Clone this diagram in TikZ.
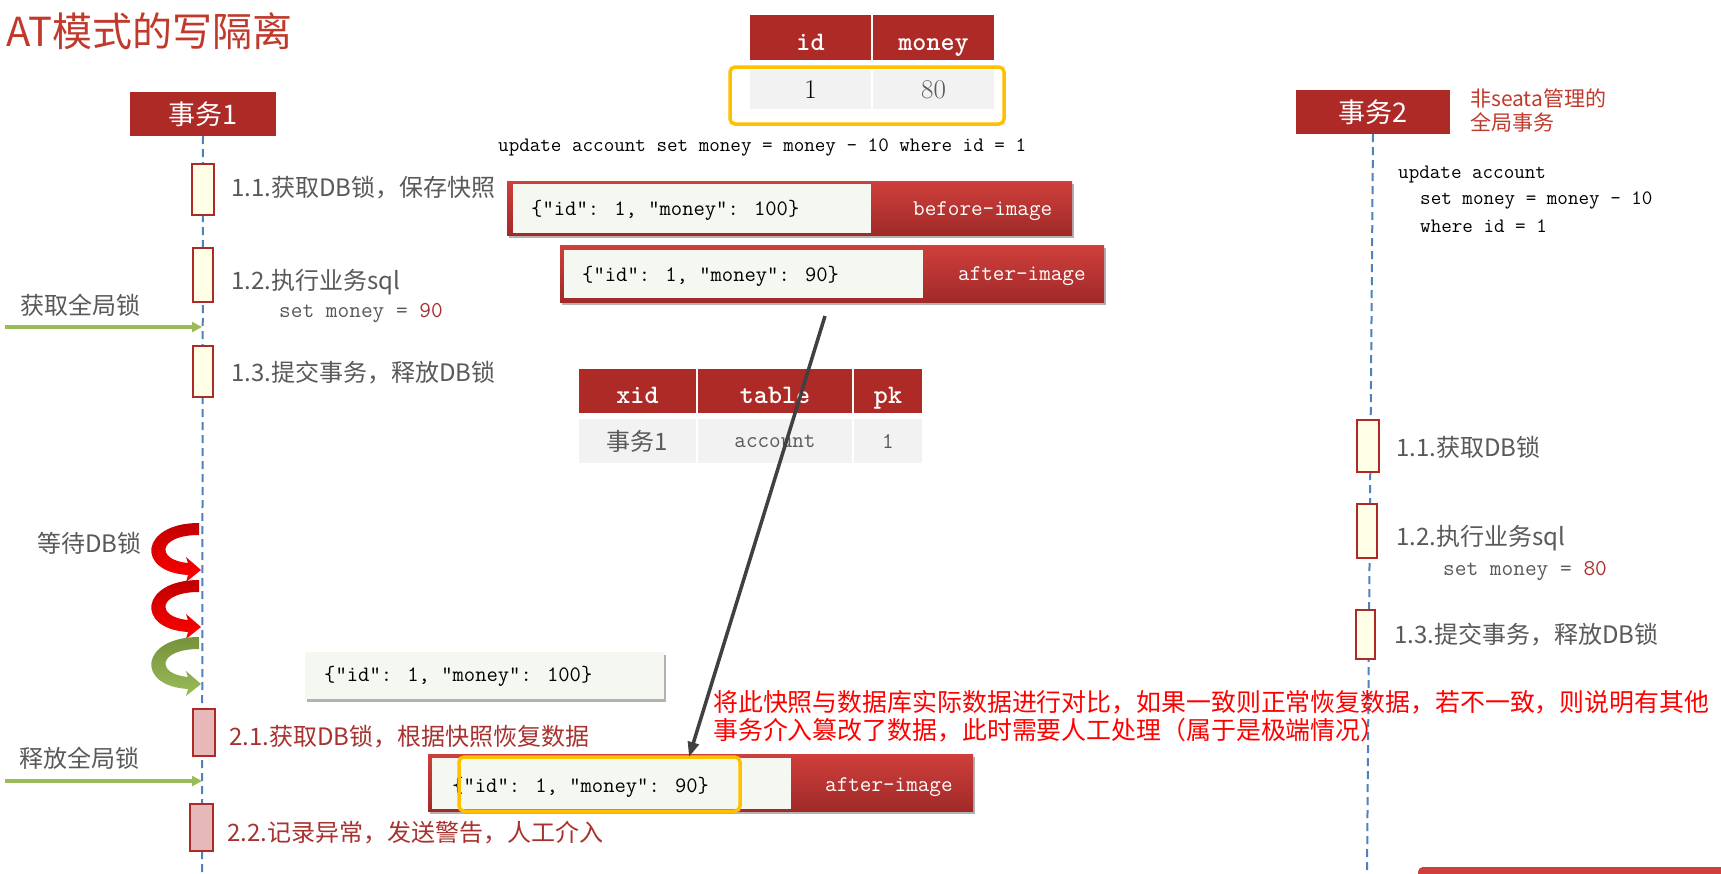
\documentclass[tikz,border=0pt]{standalone}
\usepackage{fontspec}
\newfontfamily\cjk{Noto Sans CJK SC}
\usetikzlibrary{shadows,arrows.meta}
\definecolor{txred}{HTML}{AD2A27}
\definecolor{titlered}{HTML}{C0392B}
\definecolor{undored}{HTML}{A8322F}
\definecolor{warnred}{HTML}{FF0000}
\definecolor{lineblue}{HTML}{4F81BD}
\definecolor{actfill}{HTML}{FFFFE8}
\definecolor{undofill}{HTML}{E6B8B7}
\definecolor{lblgray}{HTML}{595959}
\definecolor{lockgreen}{HTML}{9BBB59}
\definecolor{okdark}{HTML}{76923C}
\definecolor{waitdark}{HTML}{C00000}
\definecolor{hilite}{HTML}{FFC000}
\definecolor{cellgray}{HTML}{F2F2F2}
\definecolor{snapbg}{HTML}{F5F8F0}
\definecolor{imgtop}{HTML}{CF3F3C}
\definecolor{imgbot}{HTML}{A02A28}
\definecolor{cmpgray}{HTML}{404040}

\tikzset{
  txbox/.style={fill=txred,text=white,font=\cjk\fontsize{27}{30}\selectfont,minimum height=44pt,inner sep=0pt},
  lifeline/.style={draw=lineblue,line width=2pt,dash pattern=on 8pt off 5pt},
  actbox/.style={draw=txred,line width=2pt,fill=actfill,inner sep=0pt},
  undobox/.style={actbox,fill=undofill},
  stepnote/.style={anchor=west,inner sep=0pt,text=lblgray,font=\cjk\fontsize{24}{28}\selectfont},
  undonote/.style={stepnote,text=undored},
  codenote/.style={anchor=west,inner sep=0pt,text=lblgray,font=\ttfamily\fontsize{22.7}{26}\selectfont},
  sqlnote/.style={anchor=west,inner sep=0pt,text=black,font=\ttfamily\fontsize{20.5}{24}\selectfont},
  lockarrow/.style={draw=lockgreen,line width=3.5pt,-{Triangle[length=10pt,width=10pt]}},
  headcell/.style={fill=txred,text=white,inner sep=0pt,text height=27pt,text depth=2pt,
    font=\ttfamily\bfseries\fontsize{26.7}{30}\selectfont},
  datacell/.style={fill=cellgray,text=lblgray,inner sep=0pt},
  imgbox/.style={top color=imgtop,bottom color=imgbot,inner sep=0pt,
    drop shadow={shadow xshift=2pt,shadow yshift=-3pt,opacity=.3,fill=black}},
  imgdata/.style={fill=snapbg,inner sep=0pt},
  jsontext/.style={anchor=west,inner sep=0pt,text=black,font=\ttfamily\fontsize{22}{26}\selectfont},
  imgtag/.style={anchor=west,inner sep=0pt,text=white,font=\ttfamily\fontsize{22.5}{26}\selectfont},
  hilite/.style={draw=hilite,line width=3.5pt,rounded corners=5pt},
}

\begin{document}
\begin{tikzpicture}[x=1pt,y=-1pt]
\useasboundingbox[fill=white] (0,0) rectangle (1721,873);

\node[anchor=west,inner sep=0pt,text=titlered,font=\cjk\fontsize{40}{44}\selectfont] (title) at (6,31) {AT模式的写隔离};

% transactions and lifelines
\node[txbox,minimum width=146pt] (t1) at (203,114) {事务1};
\node[txbox,minimum width=154pt] (t2) at (1373,112) {事务2};
\node[anchor=west,align=left,inner sep=0pt,text=titlered,font=\cjk\fontsize{21}{24}\selectfont] (nonseata) at (1470,111) {非seata管理的\\全局事务};
\coordinate (t1end) at (202,873);
\coordinate (t2end) at (1367,873);
\draw[lifeline] (t1.south) -- (t1end);
\draw[lifeline] (t2.south) -- (t2end);

% transaction 1
\node[actbox,minimum width=21.5pt,minimum height=51pt] (a11) at (203,189.5) {};
\node[actbox,minimum width=20pt,minimum height=54pt] (a12) at (202.5,275) {};
\node[actbox,minimum width=20pt,minimum height=51pt] (a13) at (202.5,371) {};
\node[undobox,minimum width=22pt,minimum height=47pt] (b21) at (204,732.5) {};
\node[undobox,minimum width=23pt,minimum height=47pt] (b22) at (201.5,827.5) {};

\node[stepnote] (l11) at (231,188) {1.1.获取DB锁，保存快照};
\node[stepnote] (l12) at (231,282) {1.2.执行业务sql};
\node[codenote] (l12b) at (279,313) {set money = \textcolor{undored}{90}};
\node[stepnote] (l13) at (231,373) {1.3.提交事务，释放DB锁};
\node[undonote] (l21) at (229,737) {2.1.获取DB锁，根据快照恢复数据};
\node[undonote] (l22) at (227,833) {2.2.记录异常，发送警告，人工介入};

\node[stepnote] (getlock) at (20,305) {获取全局锁};
\node[stepnote] (waitdb) at (37,543) {等待DB锁};
\node[stepnote] (freelock) at (19,758) {释放全局锁};
\coordinate (g1a) at (5,327);
\coordinate (g1b) at (202,327);
\coordinate (g2a) at (5,781);
\coordinate (g2b) at (202,781);
\draw[lockarrow] (g1a) -- (g1b);
\draw[lockarrow] (g2a) -- (g2b);

% waiting for the DB lock
\foreach \dy/\ca/\cb in {0/waitdark/red, 57/waitdark/red, 114/okdark/lockgreen}
  \shade[top color=\ca,bottom color=\cb,shift={(0,\dy)}]
    (199,523) .. controls (140,523) and (135,572) .. (188,575)
    -- (186,582) -- (201,570) -- (186,557) -- (188,563)
    .. controls (155,560) and (158,535) .. (199,535) -- cycle;

% account table
\node[headcell,minimum width=121pt,minimum height=45pt] (hid) at (810.5,37.5) {id};
\node[headcell,minimum width=121pt,minimum height=45pt] (hmoney) at (933.5,37.5) {money};
\node[datacell,text=black,minimum width=121pt,minimum height=39pt,font=\fontsize{27}{30}\selectfont] (cid) at (810.5,89.5) {1};
\node[datacell,minimum width=121pt,minimum height=39pt,font=\fontsize{27}{30}\selectfont] (cmoney) at (933.5,89.5) {80};
\draw[hilite] (730,67) rectangle (1004,124);
\node[sqlnote] (sql1) at (498,147) {update account set money = money - 10 where id = 1};

% undo log images
\node[imgbox,minimum width=565pt,minimum height=54pt] (bimg) at (789.5,208) {};
\node[imgdata,minimum width=358pt,minimum height=49pt] (bdata) at (692,208.5) {};
\node[jsontext] (btext) at (531,210) {\{"id": 1, "money": 100\}};
\node[imgtag] (btag) at (913,211) {before-image};

\node[imgbox,minimum width=544pt,minimum height=57pt] (aimg) at (832,273.5) {};
\node[imgdata,minimum width=359pt,minimum height=48pt] (adata) at (743.5,274) {};
\node[jsontext] (atext) at (582,276) {\{"id": 1, "money": 90\}};
\node[imgtag] (atag) at (958,276) {after-image};

% global lock table
\node[headcell,minimum width=117pt,minimum height=44pt] (hxid) at (637.5,391) {xid};
\node[headcell,minimum width=154pt,minimum height=44pt] (htable) at (775,391) {table};
\node[headcell,minimum width=68pt,minimum height=44pt] (hpk) at (888,391) {pk};
\node[datacell,minimum width=117pt,minimum height=44pt,font=\cjk\fontsize{24}{28}\selectfont] (dxid) at (637.5,441) {事务1};
\node[datacell,minimum width=154pt,minimum height=44pt,font=\ttfamily\fontsize{22.5}{26}\selectfont] (dtable) at (775,441) {account};
\node[datacell,minimum width=68pt,minimum height=44pt,font=\ttfamily\fontsize{22.5}{26}\selectfont] (dpk) at (888,441) {1};

% rollback
\node[imgdata,minimum width=359pt,minimum height=47pt,
  drop shadow={shadow xshift=2pt,shadow yshift=-3pt,opacity=.3,fill=black}] (snap) at (484.5,675.5) {};
\node[jsontext] (snaptext) at (324,676) {\{"id": 1, "money": 100\}};

\node[imgbox,minimum width=545pt,minimum height=57pt] (aimg2) at (700.5,782.5) {};
\node[imgdata,minimum width=359pt,minimum height=51pt] (adata2) at (611.5,783.5) {};
\node[jsontext] (atext2) at (452,787) {\{"id": 1, "money": 90\}};
\node[imgtag] (atag2) at (825,787) {after-image};
\draw[hilite] (459,757) rectangle (740,811);

\coordinate (snapsrc) at (825,316);
\coordinate (snapdst) at (689,757);
\draw[draw=cmpgray,line width=3.5pt,-{Triangle[length=15pt,width=11pt]}] (snapsrc) -- (snapdst);

\node[anchor=west,align=left,inner sep=0pt,text=warnred,font=\cjk\fontsize{24.9}{28}\selectfont] (warn) at (713,716)
  {将此快照与数据库实际数据进行对比，如果一致则正常恢复数据，若不一致，则说明有其他\\事务介入篡改了数据，此时需要人工处理（属于是极端情况）};

% transaction 2
\node[sqlnote] (sql2a) at (1398,175) {update account};
\node[sqlnote] (sql2b) at (1420,200) {set money = money - 10};
\node[sqlnote] (sql2c) at (1420,226) {where id = 1};

\node[actbox,minimum width=22pt,minimum height=52pt] (c11) at (1368,446) {};
\node[actbox,minimum width=20pt,minimum height=54pt] (c12) at (1367,531) {};
\node[actbox,minimum width=19pt,minimum height=49pt] (c13) at (1365.5,634.5) {};
\node[stepnote] (m11) at (1396,447) {1.1.获取DB锁};
\node[stepnote] (m12) at (1396,538) {1.2.执行业务sql};
\node[codenote] (m12b) at (1443,571) {set money = \textcolor{undored}{80}};
\node[stepnote] (m13) at (1394,635) {1.3.提交事务，释放DB锁};

\fill[imgtop,rounded corners=5pt] (1418,867) rectangle (1740,900);
\end{tikzpicture}
\end{document}
